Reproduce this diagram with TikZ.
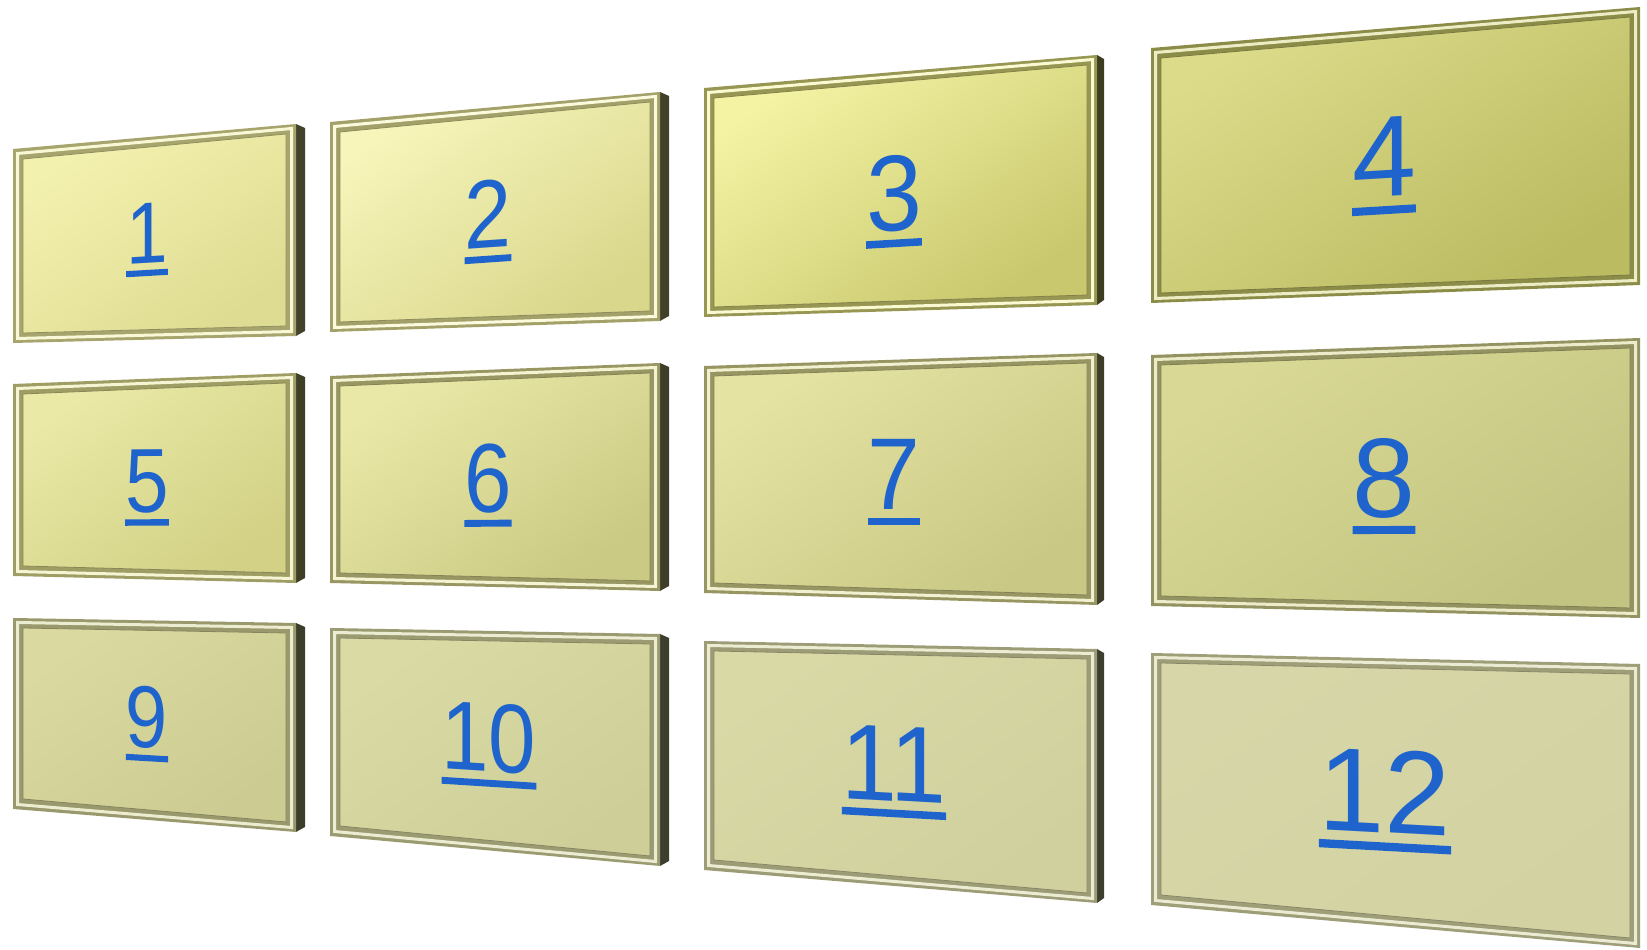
\documentclass[tikz,border=0pt]{standalone}
\usepackage{fontspec}
\setmainfont{Liberation Sans}
\usepackage{tikz}
\usetikzlibrary{calc}

\definecolor{numblue}{HTML}{1F64CC}
\definecolor{lt1}{HTML}{F3F1AE}  \definecolor{dk1}{HTML}{DEDC92}
\definecolor{lt2}{HTML}{F7F5BA}  \definecolor{dk2}{HTML}{D9D78C}
\definecolor{lt3}{HTML}{F4F3A4}  \definecolor{dk3}{HTML}{C9C86E}
\definecolor{lt4}{HTML}{DCDB8A}  \definecolor{dk4}{HTML}{BBBB62}
\definecolor{lt5}{HTML}{EAE9A6}  \definecolor{dk5}{HTML}{D2D186}
\definecolor{lt6}{HTML}{E9E8A6}  \definecolor{dk6}{HTML}{CBCA84}
\definecolor{lt7}{HTML}{E4E3A2}  \definecolor{dk7}{HTML}{C9C884}
\definecolor{lt8}{HTML}{D9D995}  \definecolor{dk8}{HTML}{C4C482}
\definecolor{lt9}{HTML}{D9D9A0}  \definecolor{dk9}{HTML}{CCCC92}
\definecolor{lt10}{HTML}{DADAA4} \definecolor{dk10}{HTML}{CECE98}
\definecolor{lt11}{HTML}{D9D9A6} \definecolor{dk11}{HTML}{D0D09E}
\definecolor{lt12}{HTML}{D6D6A8} \definecolor{dk12}{HTML}{D2D2A2}

\tikzstyle{numlabel} = [
  anchor=base, inner sep=0pt, text=numblue
]

% underlined number, rule as wide as the digits
\newcommand{\numline}[1]{\setbox0=\hbox{#1}\rlap{\rule[-0.15em]{\wd0}{0.07em}}\box0}

% one framed screen: name, tl, tr, br, bl, light, dark, side width
\newcommand{\panelquad}[8]{%
  \coordinate (#1tl) at (#2); \coordinate (#1tr) at (#3);
  \coordinate (#1br) at (#4); \coordinate (#1bl) at (#5);
  \ifdim #8pt>0pt
    \fill[#7!30!black] (#1tr) -- ($(#1tr)+(#8,-4)$) -- ($(#1br)+(#8,5)$) -- (#1br) -- cycle;
  \fi
  \fill[#7!75!black] (#1tl) -- (#1tr) -- (#1br) -- (#1bl) -- cycle;
  \draw[#6!50!white, line width=3pt]
    ($(#1tl)+(4.5,-4.5)$) -- ($(#1tr)+(-4.5,-4.5)$) --
    ($(#1br)+(-4.5,4.5)$) -- ($(#1bl)+(4.5,4.5)$) -- cycle;
  \shade[top color=#6, bottom color=#7, shading angle=35,
         draw=#7!65!black, line width=0.8pt]
    ($(#1tl)+(10,-10)$) -- ($(#1tr)+(-10,-10)$) --
    ($(#1br)+(-10,10)$) -- ($(#1bl)+(10,10)$) -- cycle;
}

\begin{document}
\begin{tikzpicture}[x=1pt, y=1pt]
  \useasboundingbox (0,0) rectangle (1647,950);

  % ── Row 1 ─────────────────────────────────────────────
  \panelquad{p1}{13,801}{296,826}{296,614}{13,607}{lt1}{dk1}{9}
  \panelquad{p2}{330,828}{660,858}{660,629}{330,618}{lt2}{dk2}{9}
  \panelquad{p3}{704,862}{1097,895}{1097,645}{704,633}{lt3}{dk3}{7}
  \panelquad{p4}{1151,902}{1640,943}{1640,665}{1151,647}{lt4}{dk4}{0}

  % ── Row 2 ─────────────────────────────────────────────
  \panelquad{p5}{13,566}{296,577}{296,367}{13,374}{lt5}{dk5}{9}
  \panelquad{p6}{330,574}{660,587}{660,359}{330,367}{lt6}{dk6}{9}
  \panelquad{p7}{704,584}{1097,597}{1097,345}{704,357}{lt7}{dk7}{7}
  \panelquad{p8}{1151,595}{1640,612}{1640,332}{1151,344}{lt8}{dk8}{0}

  % ── Row 3 ─────────────────────────────────────────────
  \panelquad{p9}{13,332}{296,327}{296,118}{13,141}{lt9}{dk9}{9}
  \panelquad{p10}{330,322}{660,316}{660,84}{330,114}{lt10}{dk10}{9}
  \panelquad{p11}{704,309}{1097,301}{1097,47}{704,80}{lt11}{dk11}{7}
  \panelquad{p12}{1151,297}{1640,286}{1640,2}{1151,45}{lt12}{dk12}{0}

  % ── Numbers ───────────────────────────────────────────
  \node[numlabel, font=\fontsize{87}{87}\selectfont, xscale=0.86, yslant=0.05]
    (lbl1) at (147,687) {\numline{1}};
  \node[numlabel, font=\fontsize{97}{97}\selectfont, xscale=0.87, yslant=0.06]
    (lbl2) at (488,702) {\numline{2}};
  \node[numlabel, font=\fontsize{108}{108}\selectfont, xscale=0.93, yslant=0.055]
    (lbl3) at (894,719) {\numline{3}};
  \node[numlabel, font=\fontsize{115}{115}\selectfont, yslant=0.06]
    (lbl4) at (1384,753) {\numline{4}};

  \node[numlabel, font=\fontsize{91}{91}\selectfont, xscale=0.86, yslant=0.005]
    (lbl5) at (147,438) {\numline{5}};
  \node[numlabel, font=\fontsize{98}{98}\selectfont, xscale=0.87, yslant=0.007]
    (lbl6) at (488,438) {\numline{6}};
  \node[numlabel, font=\fontsize{102}{102}\selectfont, xscale=0.93]
    (lbl7) at (894,440) {\numline{7}};
  \node[numlabel, font=\fontsize{113}{113}\selectfont, yslant=0.005]
    (lbl8) at (1384,433) {\numline{8}};

  \node[numlabel, font=\fontsize{88}{88}\selectfont, xscale=0.86, yslant=-0.05]
    (lbl9) at (147,202) {\numline{9}};
  \node[numlabel, font=\fontsize{98}{98}\selectfont, xscale=0.87, yslant=-0.055]
    (lbl10) at (489,178) {\numline{10}};
  \node[numlabel, font=\fontsize{108}{108}\selectfont, xscale=0.93, yslant=-0.052]
    (lbl11) at (894,149) {\numline{11}};
  \node[numlabel, font=\fontsize{119}{119}\selectfont, yslant=-0.055]
    (lbl12) at (1385,117) {\numline{12}};

\end{tikzpicture}
\end{document}
